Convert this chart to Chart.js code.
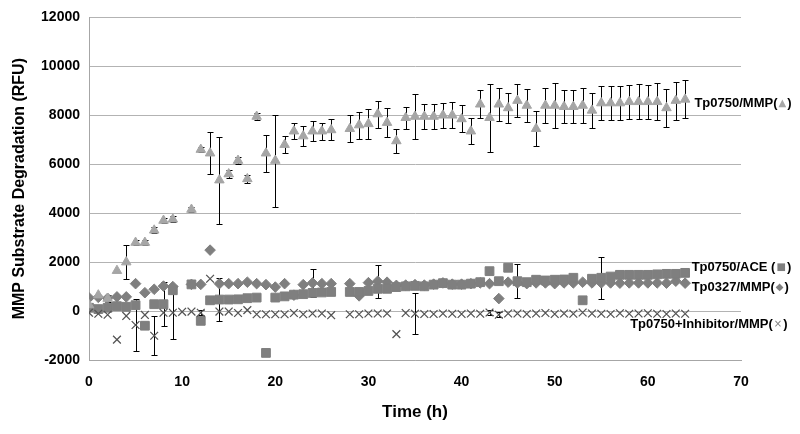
<!DOCTYPE html>
<html>
<head>
<meta charset="utf-8">
<script src="https://cdn.jsdelivr.net/npm/chart.js@4.4.0/dist/chart.umd.min.js"></script>
<style>
  html, body { margin: 0; padding: 0; background: #fff; }
</style>
</head>
<body>
<canvas id="chart" width="800" height="434"></canvas>
<script>
// Time points (h)
const hours = [0, 1, 2, 3, 4, 5, 6, 7, 8, 9, 10, 11, 12, 13, 14, 15, 16, 17, 18, 19,
  20, 21, 22, 23, 24, 25, 26, 27, 28, 29, 30, 31, 32, 33, 34, 35, 36, 37, 38, 39,
  40, 41, 42, 43, 44, 45, 46, 47, 48, 49, 50, 51, 52, 53, 54, 55, 56, 57, 58, 59,
  60, 61, 62, 63, 64];

// Tp0750/MMP (triangles)
const tp0750Mmp = [250, 650, 510, 1650, 2000, 2800, 2800, 3300, 3700, 3750,
  null, 4150, 6600, 6450, 5350, 5600, 6150, 5400, 7950, 6450,
  6150, 6800, 7350, 7150, 7350, 7350, 7400, null, 7450, 7600,
  7650, 8050, 7700, 6950, 7900, 7950, 7950, 7950, 8000, 8000,
  7850, 7350, 8450, 7900, 8450, 8300, 8600, 8400, 7450, 8400,
  8400, 8350, 8350, 8400, 8200, 8500, 8500, 8500, 8550, 8550,
  8550, 8550, 8300, 8600, 8650];
const tp0750MmpErr = [0, 0, 150, 0, 690, 120, 120, 120, 120, 120,
  0, 120, 120, 850, 1780, 150, 150, 150, 150, 750,
  1880, 350, 330, 400, 400, 350, 430, 0, 550, 550,
  600, 550, 580, 480, 450, 900, 500, 500, 520, 530,
  550, 530, 580, 1380, 680, 620, 680, 680, 720, 700,
  920, 680, 680, 700, 700, 680, 700, 700, 700, 720,
  700, 750, 780, 780, 780];

// Tp0750/ACE (squares)
const tp0750Ace = [135, 80, 135, 200, 175, 240, -600, 280, 280, 850,
  null, 1090, -400, 440, 470, 470, 480, 525, 550, -1710,
  550, 600, 670, 690, 740, 760, 780, null, 780, 780,
  820, 910, 910, 980, 1010, 1030, 1010, 1080, 1140, 1080,
  1080, 1120, 1180, 1630, 1220, 1770, 1220, 1180, 1280, 1250,
  1280, 1290, 1360, 440, 1320, 1360, 1410, 1480, 1480, 1480,
  1480, 1500, 1520, 1520, 1560];
const tp0750AceErr = [0, 0, 0, 0, 0, 0, 0, 0, 890, 0,
  0, 0, 0, 0, 880, 0, 0, 0, 0, 0,
  0, 0, 0, 0, 0, 0, 0, 0, 0, 0,
  0, 0, 0, 0, 0, 0, 0, 0, 0, 0,
  0, 0, 0, 0, 0, 0, 690, 0, 0, 0,
  0, 0, 0, 0, 0, 850, 0, 0, 0, 0,
  0, 0, 0, 0, 0];

// Tp0327/MMP (diamonds)
const tp0327Mmp = [540, 560, 520, 580, 580, 1120, 750, 890, 1020, 1000,
  null, 1090, 1090, 2490, 1120, 1120, 1120, 1180, 1120, 1080,
  980, 1120, 650, 1080, 1150, 1120, 1120, null, 1120, 620,
  1160, 1220, 1180, 1050, 1060, 1080, 1060, 1100, 1150, 1100,
  1100, 1120, 1150, 1120, 510, 1180, 1150, 1120, 1150, 1150,
  1120, 1150, 1150, 1180, 1150, 1150, 1150, 1140, 1150, 1150,
  1150, 1150, 1140, 1220, 1140];
const tp0327MmpErr = [0, 0, 0, 0, 0, 0, 0, 0, 0, 0,
  0, 0, 0, 0, 0, 0, 0, 0, 0, 0,
  0, 0, 0, 0, 570, 0, 0, 0, 0, 0,
  0, 670, 0, 0, 0, 0, 0, 0, 0, 0,
  0, 0, 0, 0, 0, 0, 0, 0, 0, 0,
  0, 0, 0, 0, 0, 0, 0, 0, 0, 0,
  0, 0, 0, 0, 0];

// Tp0750+Inhibitor/MMP (crosses)
const tp0750Inh = [-70, -110, -150, -1170, -200, -570, -160, -1010, -70, -70,
  -30, -20, -70, 1320, -20, -20, -80, 40, -130, -130,
  -130, -130, -80, -130, -100, -100, -170, null, -130, -130,
  -100, -100, -100, -940, -80, -110, -120, -120, -100, -110,
  -120, -100, -110, -60, -150, -100, -100, -120, -100, -80,
  -120, -100, -110, -60, -100, -110, -120, -90, -110, -100,
  -90, -110, -120, -100, -110];
const tp0750InhErr = [0, 0, 0, 0, 0, 1070, 0, 790, 0, 1080,
  0, 0, 100, 0, 0, 0, 0, 0, 0, 0,
  0, 0, 0, 0, 0, 0, 0, 0, 0, 0,
  0, 0, 0, 0, 0, 830, 0, 0, 0, 0,
  0, 0, 0, 100, 100, 0, 0, 0, 0, 0,
  0, 0, 0, 0, 0, 0, 0, 0, 0, 0,
  0, 0, 0, 0, 0];

const yTicks = [-2000, 0, 2000, 4000, 6000, 8000, 10000, 12000];
const xTicks = [0, 10, 20, 30, 40, 50, 60, 70];

// right-hand series labels: [text, symbol, symbol colour, hour, value]
const seriesLabels = [
  ['Tp0750/MMP(', '\u25B2', '#a6a6a6', 65, 8480],
  ['Tp0750/ACE (', '\u25A0', '#7f7f7f', 64.7, 1790],
  ['Tp0327/MMP(', '\u25C6', '#7f7f7f', 64.7, 980],
  ['Tp0750+Inhibitor/MMP(', '\u00D7', '#7f7f7f', 58.1, -560]
];

function toPoints(vals) {
  return hours.map((h, i) => ({ x: h, y: vals[i] })).filter(p => p.y !== null);
}

// Error bars drawn under the markers
const errorBars = {
  id: 'errorBars',
  beforeDatasetsDraw(chart) {
    const { ctx, scales: { x, y } } = chart;
    const sets = [[tp0750Mmp, tp0750MmpErr], [tp0750Ace, tp0750AceErr],
      [tp0327Mmp, tp0327MmpErr], [tp0750Inh, tp0750InhErr]];
    ctx.save();
    ctx.strokeStyle = '#000';
    ctx.lineWidth = 1;
    sets.forEach(([vals, errs]) => {
      hours.forEach((h, i) => {
        if (vals[i] === null || !errs[i]) return;
        const px = Math.round(x.getPixelForValue(h)) + 0.5;
        const top = Math.round(y.getPixelForValue(vals[i] + errs[i])) + 0.5;
        const bot = Math.round(y.getPixelForValue(vals[i] - errs[i])) + 0.5;
        ctx.beginPath();
        ctx.moveTo(px, top); ctx.lineTo(px, bot);
        ctx.moveTo(px - 3, top); ctx.lineTo(px + 3, top);
        ctx.moveTo(px - 3, bot); ctx.lineTo(px + 3, bot);
        ctx.stroke();
      });
    });
    ctx.restore();
  }
};

const labelsPlugin = {
  id: 'seriesLabels',
  afterDraw(chart) {
    const { ctx, scales: { x, y } } = chart;
    ctx.save();
    ctx.textBaseline = 'middle';
    ctx.textAlign = 'left';
    seriesLabels.forEach(([txt, sym, col, h, v]) => {
      let px = x.getPixelForValue(h);
      const py = y.getPixelForValue(v);
      ctx.font = 'bold 13px "Liberation Sans", Arial, sans-serif';
      ctx.fillStyle = '#000';
      ctx.fillText(txt, px, py);
      px += ctx.measureText(txt).width;
      ctx.font = '10px "DejaVu Sans", sans-serif';
      ctx.fillStyle = col;
      ctx.fillText(sym, px + 1, py);
      px += ctx.measureText(sym).width + 2;
      ctx.font = 'bold 13px "Liberation Sans", Arial, sans-serif';
      ctx.fillStyle = '#000';
      ctx.fillText(')', px, py);
    });
    ctx.restore();
  }
};

new Chart(document.getElementById('chart'), {
  type: 'scatter',
  data: {
    datasets: [
      {
        label: 'Tp0750/MMP',
        data: toPoints(tp0750Mmp),
        pointStyle: 'triangle',
        pointRadius: 5.5,
        backgroundColor: '#a6a6a6',
        borderColor: '#a6a6a6',
        borderWidth: 1,
        order: 0
      },
      {
        label: 'Tp0750+Inhibitor/MMP',
        data: toPoints(tp0750Inh),
        pointStyle: 'crossRot',
        pointRadius: 5.5,
        backgroundColor: '#555',
        borderColor: '#555',
        borderWidth: 1.3,
        order: 1
      },
      {
        label: 'Tp0750/ACE',
        data: toPoints(tp0750Ace),
        pointStyle: 'rect',
        pointRadius: 6.2,
        backgroundColor: '#7f7f7f',
        borderColor: '#7f7f7f',
        borderWidth: 1,
        order: 2
      },
      {
        label: 'Tp0327/MMP',
        data: toPoints(tp0327Mmp),
        pointStyle: 'rectRot',
        pointRadius: 5.3,
        backgroundColor: '#7f7f7f',
        borderColor: '#7f7f7f',
        borderWidth: 1,
        order: 3
      }
    ]
  },
  options: {
    responsive: false,
    animation: false,
    layout: { padding: { left: 0, right: 59, top: 12, bottom: 0 } },
    plugins: {
      legend: { display: false },
      tooltip: { enabled: false }
    },
    scales: {
      x: {
        type: 'linear',
        min: 0,
        max: 70,
        afterFit: s => { s.height = 74; },
        afterBuildTicks: s => { s.ticks = xTicks.map(v => ({ value: v })); },
        grid: { drawOnChartArea: false, drawTicks: false },
        border: { color: '#a6a6a6', width: 1 },
        ticks: {
          padding: 14,
          color: '#000',
          callback: v => String(v),
          font: { family: '"Liberation Sans", Arial, sans-serif', size: 14, weight: 'bold' }
        },
        title: {
          display: true,
          text: 'Time (h)',
          color: '#000',
          padding: { top: 0, bottom: 11 },
          font: { family: '"Liberation Sans", Arial, sans-serif', size: 17, weight: 'bold' }
        }
      },
      y: {
        min: -2000,
        max: 12000,
        afterFit: s => { s.width = 89; },
        afterBuildTicks: s => { s.ticks = yTicks.map(v => ({ value: v })); },
        grid: { color: '#b3b3b3', drawTicks: false },
        border: { color: '#a6a6a6', width: 1 },
        ticks: {
          padding: 9,
          color: '#000',
          callback: v => String(v),
          font: { family: '"Liberation Sans", Arial, sans-serif', size: 14, weight: 'bold' }
        },
        title: {
          display: true,
          text: 'MMP Substrate Degradation (RFU)',
          color: '#000',
          padding: { top: 10, bottom: 0 },
          font: { family: '"Liberation Sans", Arial, sans-serif', size: 16, weight: 'bold' }
        }
      }
    }
  },
  plugins: [errorBars, labelsPlugin]
});
</script>
</body>
</html>
